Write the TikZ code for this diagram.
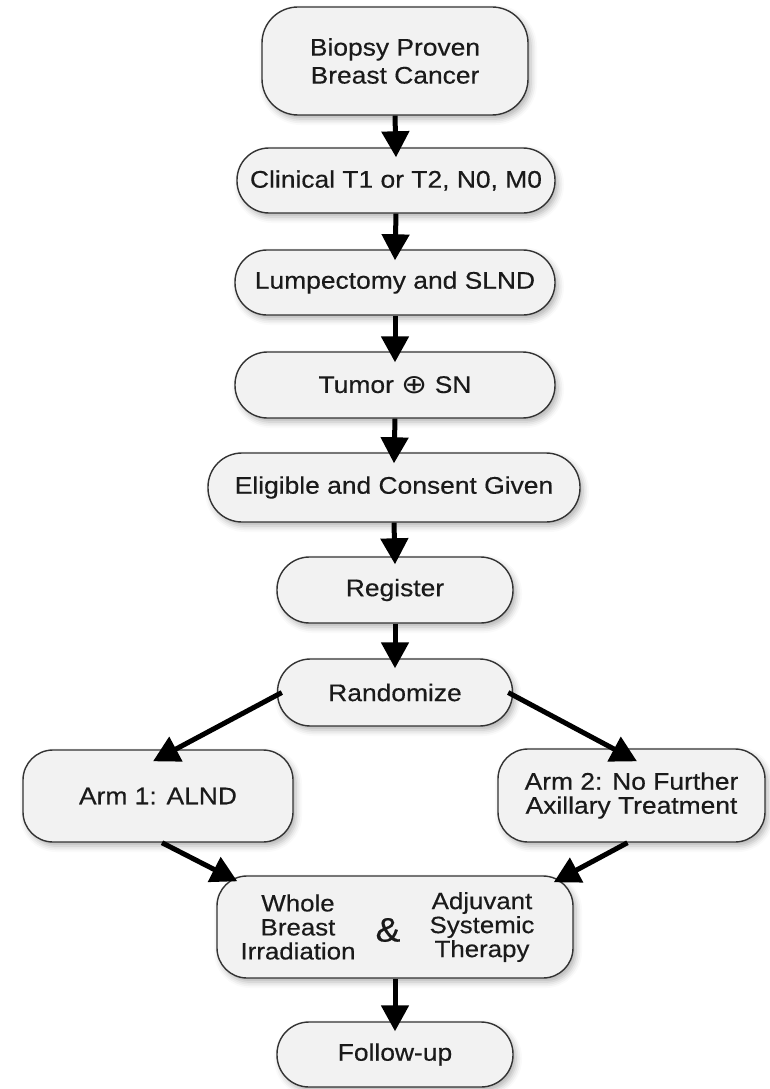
\documentclass[tikz,border=0pt]{standalone}
\usepackage{fontspec}
\setmainfont{Liberation Sans}[FakeStretch=1.1,FakeBold=0.4]
\newfontfamily\symfont{DejaVu Sans}
\usetikzlibrary{arrows.meta,shadows.blur}
\definecolor{boxfill}{HTML}{F2F2F2}
\definecolor{boxline}{HTML}{333333}
\definecolor{txt}{HTML}{1A1A1A}
\begin{document}
\begin{tikzpicture}[x=1pt,y=-1pt,
  box/.style={draw=boxline, line width=1.4pt, fill=boxfill, text=txt, align=center, inner sep=0pt,
     font=\fontsize{24}{27}\selectfont,
     blur shadow={shadow xshift=3pt, shadow yshift=-4pt, shadow blur radius=6pt, shadow opacity=30}},
  lbl/.style={inner sep=0pt, align=center, text=txt, font=\fontsize{23.5}{24}\selectfont},
  arr/.style={line width=5pt, black, -{Triangle[length=26pt,width=27pt]}},
]
\useasboundingbox (0,0) rectangle (769,1089);
\node[box, minimum width=266pt, minimum height=108pt, rounded corners=36pt, font=\fontsize{24}{28}\selectfont] (bio) at (395,61) {Biopsy Proven\\Breast Cancer};
\node[box, minimum width=318pt, minimum height=65pt, rounded corners=32pt] (clin) at (396,180.5) {Clinical T1 or T2, N0, M0};
\node[box, minimum width=320pt, minimum height=65pt, rounded corners=32pt] (lump) at (395,282.5) {Lumpectomy and SLND};
\node[box, minimum width=320pt, minimum height=66pt, rounded corners=32.5pt] (tumor) at (395,385) {Tumor \raisebox{-0.5pt}{\scalebox{1.3}[1.1]{\symfont ⊕}} SN};
\node[box, minimum width=372pt, minimum height=69pt, rounded corners=34pt] (elig) at (394,487.5) {Eligible and Consent Given};
\node[box, minimum width=236pt, minimum height=66pt, rounded corners=32.5pt] (reg) at (395,590) {Register};
\node[box, minimum width=235pt, minimum height=67pt, rounded corners=33pt] (rand) at (395,692.5) {Randomize};
\node[box, minimum width=270pt, minimum height=92pt, rounded corners=30pt] (arm1) at (158,796) {Arm 1: ALND};
\node[box, minimum width=267pt, minimum height=93pt, rounded corners=30pt, font=\fontsize{24}{24}\selectfont] (arm2) at (631.5,795.5) {Arm 2: No Further\\Axillary Treatment};
\node[box, minimum width=356pt, minimum height=102pt, rounded corners=30pt] (wbi) at (395,927) {};
\node[lbl] (wbiL) at (298,927) {Whole\\Breast\\Irradiation};
\node[lbl, font=\fontsize{34}{34}\selectfont] (amp) at (388,930) {\&};
\node[lbl] (wbiR) at (482,927) {Adjuvant\\Systemic\\Therapy};
\node[box, minimum width=236pt, minimum height=65pt, rounded corners=32pt] (fu) at (395,1054.5) {Follow-up};

\draw[arr] (bio.south) -- ([yshift=-10pt]clin.north);
\draw[arr] (clin.south) -- ([yshift=-11pt]lump.north);
\draw[arr] (lump.south) -- ([yshift=-11pt]tumor.north);
\draw[arr] (tumor.south) -- ([yshift=-11pt]elig.north);
\draw[arr] (elig.south) -- ([yshift=-8pt]reg.north);
\draw[arr] (reg.south) -- ([yshift=-10pt]rand.north);
\draw[arr] ([xshift=5pt]rand.west) -- ([xshift=-5pt,yshift=-12pt]arm1.north);
\draw[arr] ([xshift=-5pt]rand.east) -- ([xshift=5.5pt,yshift=-13pt]arm2.north);
\draw[arr] ([xshift=4pt]arm1.south) -- ([xshift=21pt,yshift=-6pt]wbi.north west);
\draw[arr] ([xshift=-4pt]arm2.south) -- ([xshift=-20pt,yshift=-7pt]wbi.north east);
\draw[arr] (wbi.south) -- ([yshift=-10pt]fu.north);
\end{tikzpicture}
\end{document}
